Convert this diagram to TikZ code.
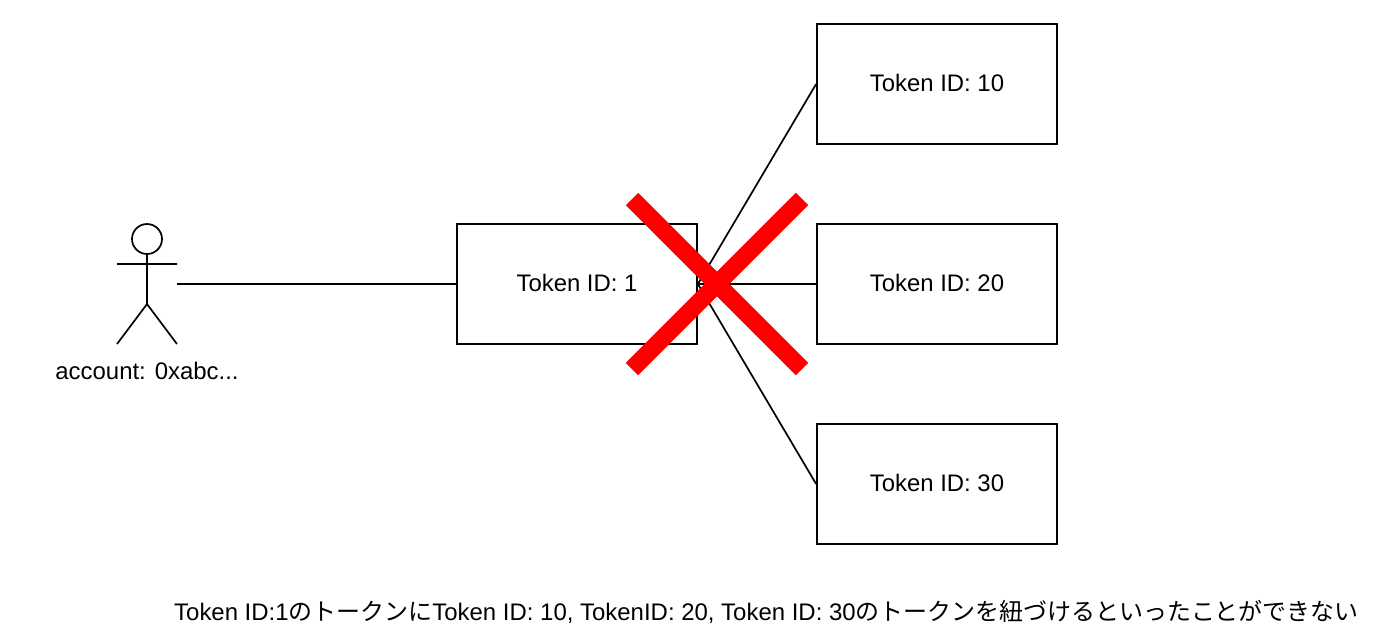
\documentclass[tikz,border=0pt]{standalone}
\usepackage{fontspec}
\setmainfont{Liberation Sans}
\newfontfamily\cjk{Noto Sans CJK JP}
\begin{document}
\begin{tikzpicture}[x=1pt,y=-1pt,
  tokenbox/.style={draw=black,line width=1.7pt,minimum width=240pt,minimum height=120pt,inner sep=0pt,text depth=2pt,font=\fontsize{23.9}{28}\selectfont,text=black},
  edge/.style={draw=black,line width=1.7pt},
  cross/.style={draw=red,line width=17.4pt},
  lbl/.style={font=\fontsize{23.95}{28}\selectfont,inner sep=0pt}]
\useasboundingbox (0,0) rectangle (1382,638);
\fill[white] (0,0) rectangle (1382,638);
\node[tokenbox] (t1) at (577,284) {Token ID: 1};
\node[tokenbox] (t10) at (937,84) {Token ID: 10};
\node[tokenbox] (t20) at (937,284) {Token ID: 20};
\node[tokenbox] (t30) at (937,484) {Token ID: 30};
\coordinate (hip) at (147,304);
\coordinate (neck) at (147,254);
\coordinate (armL) at (117,264);
\coordinate (armR) at (177,264);
\coordinate (footL) at (117,344);
\coordinate (footR) at (177,344);
\coordinate (actor) at (177,284);
\draw[edge] (147,239) circle (15);
\draw[edge] (neck) -- (hip) (armL) -- (armR) (hip) -- (footL) (hip) -- (footR);
\node[lbl] (acc) at (147,370.5) {account: 0xabc...};
\draw[edge] (actor) -- (t1.west);
\draw[edge] (t1.east) -- (t10.west);
\draw[edge] (t1.east) -- (t20.west);
\draw[edge] (t1.east) -- (t30.west);
\coordinate (c1) at (632,199);
\coordinate (c2) at (802,369);
\coordinate (c3) at (802,199);
\coordinate (c4) at (632,369);
\draw[cross] (c1) -- (c2);
\draw[cross] (c3) -- (c4);
\node[lbl,anchor=west] (note) at (174,611.5) {Token ID:1{\cjk のトークンに}Token ID: 10, TokenID: 20, Token ID: 30{\cjk のトークンを紐づけるといったことができない}};
\end{tikzpicture}
\end{document}
